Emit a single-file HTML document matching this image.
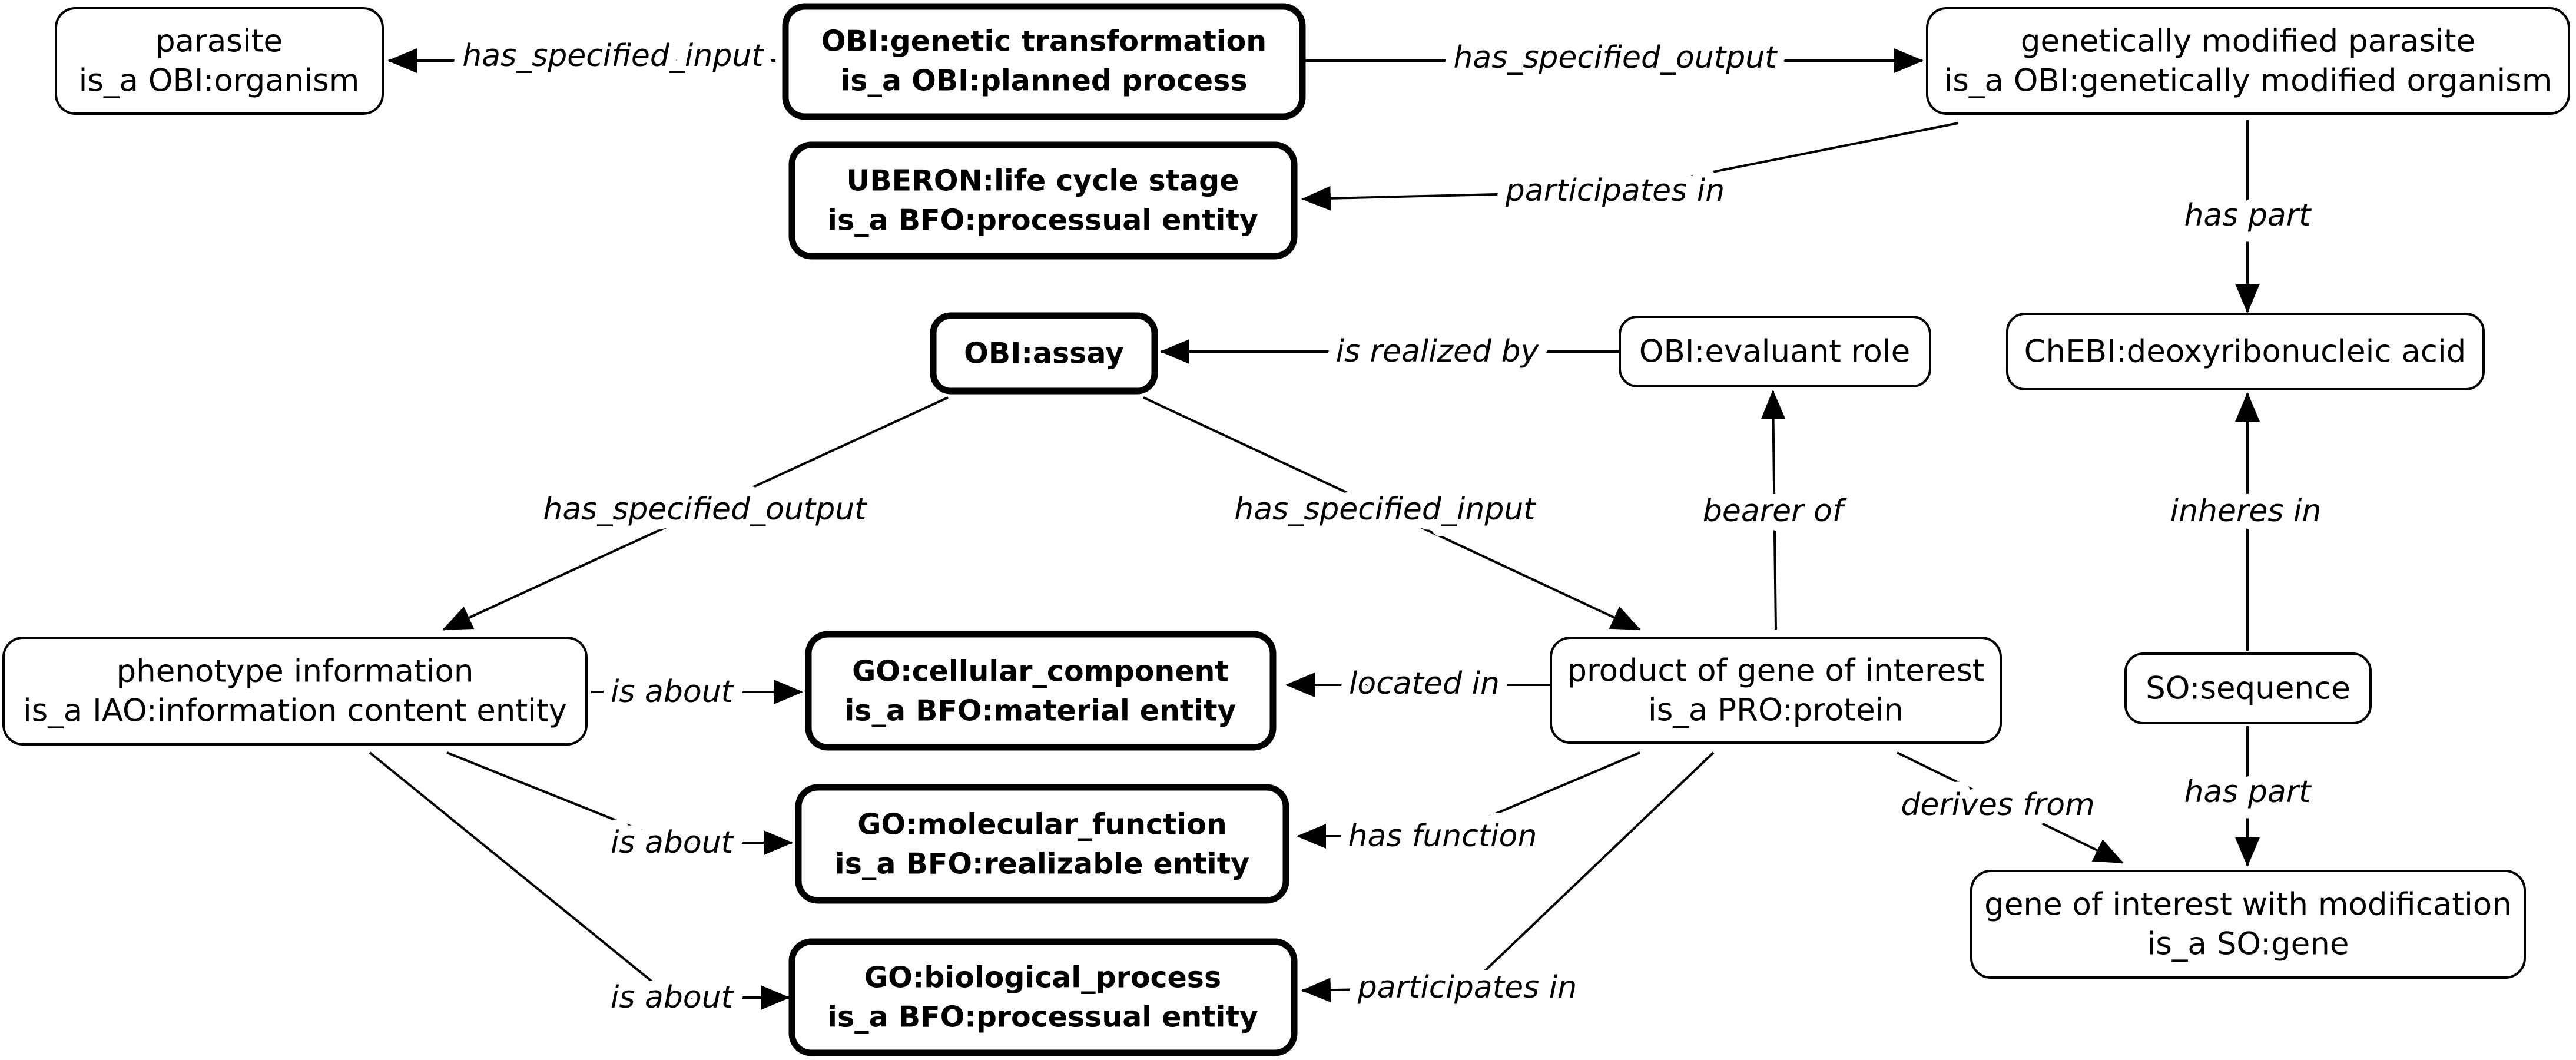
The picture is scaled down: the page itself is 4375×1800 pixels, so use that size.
<!DOCTYPE html>
<html><head><meta charset="utf-8"><style>
html,body{margin:0;padding:0;background:#fff;}
svg{display:block;}
.n{font-family:"DejaVu Sans","Liberation Sans",sans-serif;font-size:53px;text-anchor:middle;dominant-baseline:central;fill:#000;}
.b{font-weight:bold;font-size:49px;}
.l{font-family:"DejaVu Sans","Liberation Sans",sans-serif;font-size:52px;font-style:italic;text-anchor:middle;dominant-baseline:central;fill:#000;stroke:#fff;stroke-width:34px;paint-order:stroke;stroke-linejoin:round;}
.t{fill:#fff;stroke:#000;stroke-width:4;}
.k{fill:#fff;stroke:#000;stroke-width:11;}
.e{fill:none;stroke:#000;stroke-width:4;}
</style></head><body>
<svg width="4375" height="1800" viewBox="0 0 4375 1800" xmlns="http://www.w3.org/2000/svg">
<defs>
<marker id="a" markerUnits="userSpaceOnUse" markerWidth="52" markerHeight="42" refX="48" refY="21" orient="auto">
<path d="M0,0 L50,21 L0,42 Z" fill="#000"/>
</marker>
</defs>
<!-- edges -->
<line class="e" x1="1317" y1="103" x2="660" y2="103" marker-end="url(#a)"/>
<line class="e" x1="2215" y1="103" x2="3265" y2="103" marker-end="url(#a)"/>
<polyline class="e" points="3326,209 2743,325 2212,338" marker-end="url(#a)"/>
<line class="e" x1="3817" y1="204" x2="3817" y2="530" marker-end="url(#a)"/>
<line class="e" x1="2751" y1="597" x2="1972" y2="597" marker-end="url(#a)"/>
<line class="e" x1="3016" y1="1069" x2="3011" y2="664" marker-end="url(#a)"/>
<line class="e" x1="3817" y1="1105" x2="3817" y2="668" marker-end="url(#a)"/>
<line class="e" x1="1610" y1="675" x2="753" y2="1069" marker-end="url(#a)"/>
<line class="e" x1="1942" y1="675" x2="2785" y2="1069" marker-end="url(#a)"/>
<line class="e" x1="1004" y1="1175" x2="1362" y2="1175" marker-end="url(#a)"/>
<polyline class="e" points="759,1278 1141,1431 1345,1431" marker-end="url(#a)"/>
<polyline class="e" points="628,1278 1141,1694 1340,1694" marker-end="url(#a)"/>
<line class="e" x1="2634" y1="1163" x2="2185" y2="1163" marker-end="url(#a)"/>
<polyline class="e" points="2785,1278 2450,1420 2204,1420" marker-end="url(#a)"/>
<polyline class="e" points="2910,1278 2492,1677 2212,1682" marker-end="url(#a)"/>
<line class="e" x1="3222" y1="1278" x2="3605" y2="1465" marker-end="url(#a)"/>
<line class="e" x1="3817" y1="1233" x2="3817" y2="1470" marker-end="url(#a)"/>
<!-- edge labels -->
<text class="l" x="1041" y="95">has_specified_input</text>
<text class="l" x="2743" y="98">has_specified_output</text>
<text class="l" x="2743" y="324">participates in</text>
<text class="l" x="3817" y="366">has part</text>
<text class="l" x="2441" y="597">is realized by</text>
<text class="l" x="3011" y="868">bearer of</text>
<text class="l" x="3814" y="868">inheres in</text>
<text class="l" x="1197" y="865">has_specified_output</text>
<text class="l" x="2352" y="865">has_specified_input</text>
<text class="l" x="1141" y="1175">is about</text>
<text class="l" x="1141" y="1431">is about</text>
<text class="l" x="1141" y="1694">is about</text>
<text class="l" x="2419" y="1161">located in</text>
<text class="l" x="2450" y="1420">has function</text>
<text class="l" x="2492" y="1677">participates in</text>
<text class="l" x="3393" y="1367">derives from</text>
<text class="l" x="3817" y="1345">has part</text>
<!-- nodes -->
<rect class="t" x="95" y="14" width="555" height="179" rx="33"/>
<text class="n" x="372" y="70">parasite</text>
<text class="n" x="372" y="137">is_a OBI:organism</text>

<rect class="k" x="1334" y="11" width="878" height="187" rx="33"/>
<text class="n b" x="1773" y="70">OBI:genetic transformation</text>
<text class="n b" x="1773" y="137">is_a OBI:planned process</text>

<rect class="t" x="3273" y="14" width="1090" height="179" rx="33"/>
<text class="n" x="3818" y="70">genetically modified parasite</text>
<text class="n" x="3818" y="137">is_a OBI:genetically modified organism</text>

<rect class="k" x="1345" y="246" width="853" height="189" rx="33"/>
<text class="n b" x="1771" y="307">UBERON:life cycle stage</text>
<text class="n b" x="1771" y="374">is_a BFO:processual entity</text>

<rect class="k" x="1585" y="536" width="376" height="128" rx="30"/>
<text class="n b" x="1773" y="600">OBI:assay</text>

<rect class="t" x="2751" y="538" width="527" height="118" rx="30"/>
<text class="n" x="3014" y="597">OBI:evaluant role</text>

<rect class="t" x="3409" y="533" width="809" height="128" rx="30"/>
<text class="n" x="3813" y="597">ChEBI:deoxyribonucleic acid</text>

<rect class="t" x="6" y="1083" width="990" height="181" rx="33"/>
<text class="n" x="501" y="1140">phenotype information</text>
<text class="n" x="501" y="1207">is_a IAO:information content entity</text>

<rect class="k" x="1373" y="1077" width="789" height="192" rx="33"/>
<text class="n b" x="1767" y="1140">GO:cellular_component</text>
<text class="n b" x="1767" y="1207">is_a BFO:material entity</text>

<rect class="t" x="2634" y="1083" width="764" height="178" rx="33"/>
<text class="n" x="3016" y="1139">product of gene of interest</text>
<text class="n" x="3016" y="1206">is_a PRO:protein</text>

<rect class="t" x="3610" y="1110" width="416" height="118" rx="30"/>
<text class="n" x="3818" y="1169">SO:sequence</text>

<rect class="k" x="1356" y="1337" width="828" height="192" rx="33"/>
<text class="n b" x="1770" y="1400">GO:molecular_function</text>
<text class="n b" x="1770" y="1467">is_a BFO:realizable entity</text>

<rect class="t" x="3348" y="1479" width="940" height="181" rx="33"/>
<text class="n" x="3818" y="1536">gene of interest with modification</text>
<text class="n" x="3818" y="1603">is_a SO:gene</text>

<rect class="k" x="1345" y="1599" width="853" height="189" rx="33"/>
<text class="n b" x="1771" y="1660">GO:biological_process</text>
<text class="n b" x="1771" y="1727">is_a BFO:processual entity</text>
</svg>
</body></html>
